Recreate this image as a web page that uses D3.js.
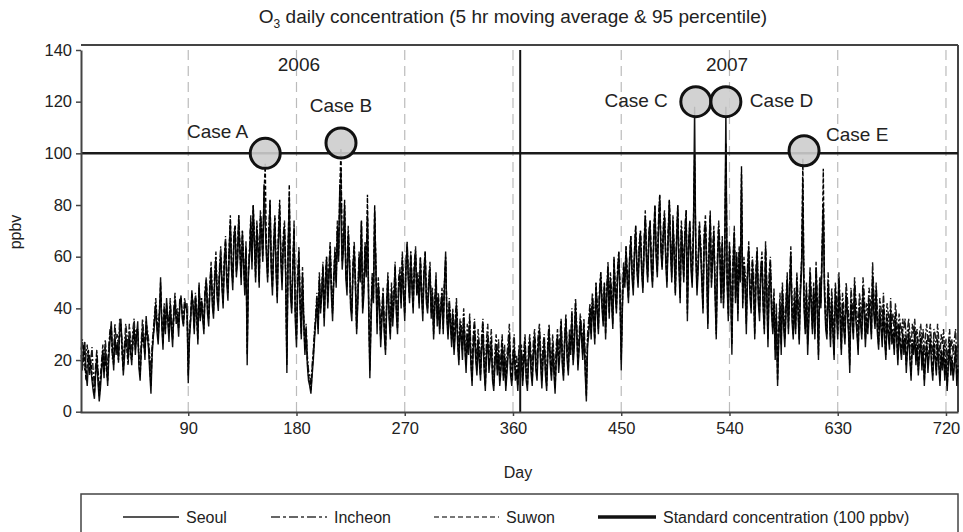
<!DOCTYPE html>
<meta charset="utf-8">
<script src="https://cdn.jsdelivr.net/npm/d3@7"></script>
<style>
  body { margin: 0; background: #fff; }
  text { font-family: "Liberation Sans", Arial, sans-serif; fill: #222; }
</style>
<div id="chart"></div>
<script>
// daily values (ppbv), day 1..365 of each year
var seoul2006 = [
20,18,24,27,15,10,19,22,17,12, 8,5,14,20,11,4,9,16,22,13, 25,18,10,21,28,35,24,16,30,22,
27,19,33,36,25,14,21,30,26,20, 31,24,18,28,34,22,29,35,17,12, 25,33,28,20,37,30,24,15,7,22,
29,34,41,31,26,36,52,33,24,38, 30,44,35,27,40,32,25,38,43,34, 37,29,41,45,36,33,40,42,38,11,
28,35,47,40,30,44,38,26,49,35, 42,36,30,45,51,38,33,47,55,41, 36,50,58,44,39,53,62,48,40,57,
65,50,43,60,72,55,47,66,70,52, 58,74,61,49,68,57,45,63,18,52, 60,72,55,78,65,50,70,62,48,75,
68,58,88,72,60,50,66,80,55,45, 62,73,54,42,66,78,58,47,64,70, 52,15,60,80,45,38,55,70,35,25,
48,60,40,28,52,34,22,30,18,12, 10,7,14,20,28,35,42,30,50,38, 45,55,33,48,58,40,52,62,45,35,
50,60,48,70,58,88,75,55,62,80, 52,45,68,58,40,35,55,62,48,30, 42,58,50,72,38,45,62,52,75,40,
13,35,50,42,78,55,30,48,40,25, 35,45,30,22,40,50,36,28,45,33, 42,55,38,30,48,52,40,58,45,35,
55,65,50,42,60,48,38,55,62,45, 50,40,58,45,35,52,60,42,38,48, 55,36,45,28,40,50,33,42,30,38,
45,30,48,62,36,28,40,33,25,35, 22,30,40,26,18,32,28,20,35,24, 15,28,22,33,18,10,25,30,20,14,
26,19,12,24,30,16,8,22,28,15, 20,26,12,8,18,24,14,22,10,16, 25,12,20,8,15,22,28,14,10,18,
24,12,16,8,20];
var seoul2007 = [
14,22,10,18,25,12,8,20,26,15, 10,22,28,16,12,25,30,18,9,20, 26,14,8,22,30,18,12,24,15,7,
20,28,15,22,33,18,12,26,35,20, 14,28,22,36,18,25,40,30,16,24, 35,28,20,32,15,4,25,30,38,28,
42,35,26,48,38,30,45,52,40,33, 48,28,45,55,36,50,42,32,58,45, 38,52,60,44,16,40,55,48,62,50,
42,58,66,52,45,60,70,55,48,62, 68,54,46,62,75,58,50,66,72,55, 48,65,78,60,52,70,82,62,55,68,
75,58,48,66,80,62,50,72,60,45, 65,78,55,42,70,60,50,68,75,35, 62,72,55,48,68,118,60,45,55,70,
62,50,38,66,72,55,32,60,75,48, 58,68,45,28,55,70,60,42,65,40, 55,118,50,35,62,48,22,55,68,42,
58,35,60,50,92,40,55,48,30,52, 62,45,38,55,48,28,50,60,42,35, 52,58,40,30,62,45,25,48,55,38,
30,42,20,35,10,28,40,22,45,33, 25,38,50,30,45,60,35,28,42,30, 50,38,26,45,55,80,40,30,45,22,
35,52,40,30,45,28,55,38,20,48, 40,60,78,45,32,28,48,38,25,42, 30,20,45,38,28,50,35,22,40,32,
26,45,38,30,15,42,35,28,48,36, 30,22,40,34,28,45,38,25,35,30, 42,36,28,50,38,32,45,30,24,38,
32,25,40,28,20,35,30,24,38,26, 30,22,35,28,18,32,25,20,30,22, 28,15,24,30,20,12,26,22,30,18,
25,14,22,28,16,24,10,20,26,15, 22,28,18,12,25,20,14,26,18,10, 22,16,24,12,20,8,18,25,14,20,
12,18,24,10,16];
var incheon2006 = [
24,28,20,16,22,26,18,14,20,25, 15,10,18,24,16,8,14,20,26,18, 28,22,16,26,32,30,20,24,34,28,
30,24,36,32,28,20,26,34,30,25, 34,28,24,32,36,28,32,30,22,18, 28,36,30,26,34,32,28,22,14,26,
32,38,44,36,30,40,46,36,30,42, 34,40,38,32,44,36,30,40,46,38, 40,34,44,42,38,36,44,40,42,20,
32,38,44,42,36,46,40,32,50,38, 44,40,36,48,52,42,38,50,58,46, 40,54,62,48,44,56,64,52,46,60,
68,54,48,64,74,58,52,70,72,56, 62,76,64,54,70,60,50,66,30,56, 64,76,60,80,68,56,74,66,52,78,
72,62,84,76,64,54,70,82,60,50, 66,76,58,48,70,80,62,52,68,74, 56,22,64,84,50,42,58,74,40,30,
52,64,44,34,56,38,26,34,22,16, 14,10,18,24,32,38,46,34,54,42, 48,58,38,52,60,44,56,66,50,40,
54,64,52,74,62,80,94,60,66,78, 56,50,72,62,44,40,58,66,52,36, 46,62,54,74,44,50,66,56,78,44,
20,40,54,46,76,58,36,52,44,30, 40,48,34,28,44,54,40,32,50,38, 46,58,42,36,52,56,44,62,48,40,
58,66,54,46,62,52,42,58,64,48, 54,44,60,48,40,56,62,46,42,52, 58,40,48,34,44,54,38,46,36,42,
48,36,50,58,40,34,44,38,30,40, 28,36,44,32,24,36,34,26,40,30, 22,34,28,38,24,16,30,36,26,20,
32,26,18,30,36,22,14,28,34,22, 26,32,18,14,24,30,20,28,16,22, 30,18,26,14,22,28,34,20,16,24,
30,18,22,14,26];
var incheon2007 = [
20,26,16,24,30,18,14,26,30,22, 16,28,32,22,18,30,34,24,16,26, 30,20,14,28,34,24,18,30,22,14,
26,32,22,28,36,24,18,30,38,26, 20,32,28,40,24,30,44,34,22,30, 38,32,26,36,22,12,30,36,42,34,
46,40,32,50,42,36,48,54,44,38, 50,34,48,58,40,54,46,38,60,48, 42,56,62,48,24,46,58,52,64,54,
46,60,68,56,50,62,72,58,52,66, 70,58,50,66,78,62,54,70,74,60, 52,68,80,64,56,74,84,66,58,72,
78,62,52,70,82,66,54,76,64,50, 68,80,60,48,74,64,56,72,78,42, 66,74,60,54,72,96,64,50,60,74,
66,56,44,70,76,60,40,64,78,54, 62,72,50,36,60,74,64,48,68,46, 60,100,56,42,66,54,30,60,72,48,
62,42,64,56,86,46,60,54,38,56, 66,50,44,60,54,34,56,64,48,42, 56,62,46,36,66,50,32,54,60,44,
36,48,28,42,18,34,46,30,50,40, 32,44,54,36,50,64,42,34,48,36, 54,44,32,50,60,90,46,36,50,30,
42,56,46,36,50,34,58,44,28,52, 46,64,80,50,38,34,54,44,32,48, 38,28,50,44,36,54,42,30,46,40,
34,50,44,38,24,48,42,36,52,44, 38,30,46,42,36,52,46,34,42,38, 48,44,36,58,46,40,50,38,32,44,
40,34,46,36,30,42,38,32,44,34, 38,30,42,36,28,38,34,30,36,32, 36,26,32,36,30,24,34,30,36,28,
32,24,30,34,26,32,22,30,34,26, 30,34,26,22,32,30,24,34,28,20, 30,26,32,22,28,18,26,32,24,28,
22,28,32,20,26];
var suwon2006 = [
22,16,26,20,12,18,24,15,20,14, 10,7,16,22,14,6,12,18,24,15, 22,16,12,24,30,33,22,18,28,24,
25,20,30,34,22,16,24,28,24,18, 28,22,20,26,32,24,30,32,19,14, 24,30,26,22,35,28,26,18,10,24,
30,36,42,34,28,38,50,35,26,40, 32,42,36,30,42,34,28,36,44,36, 38,32,42,44,38,34,42,40,40,14,
30,36,46,42,32,44,36,28,48,36, 44,38,32,46,50,40,36,48,56,44, 38,52,60,46,42,54,60,50,42,58,
66,52,46,62,76,56,50,68,72,54, 60,76,62,52,70,58,48,64,22,54, 62,74,58,80,66,52,72,64,50,76,
70,60,84,96,62,52,68,82,56,48, 64,75,56,44,68,82,60,50,66,72, 54,18,62,88,48,40,56,72,38,28,
50,62,42,30,54,36,24,32,20,14, 12,8,16,22,30,36,44,32,52,40, 46,56,36,50,60,42,54,64,48,38,
52,62,50,72,60,86,102,58,64,82, 54,48,70,60,42,38,56,64,50,32, 44,60,52,74,40,48,64,54,84,42,
16,38,52,44,80,56,34,50,42,28, 38,46,32,24,42,52,38,30,48,36, 44,56,40,32,50,54,42,60,46,38,
56,64,52,44,62,50,40,56,62,46, 52,42,60,46,38,54,62,44,40,50, 56,38,46,30,42,52,36,44,32,40,
46,32,50,60,38,30,42,36,28,38, 24,34,42,28,20,34,30,24,38,26, 18,30,24,36,20,12,28,34,22,16,
28,22,14,26,34,18,10,24,30,18, 22,28,14,10,20,26,16,24,12,18, 28,14,22,10,18,24,30,16,12,20,
26,14,18,10,22];
var suwon2007 = [
16,24,12,20,28,14,10,22,28,18, 12,24,30,18,14,28,32,20,12,22, 28,16,10,24,32,20,14,26,18,9,
22,30,18,24,35,20,14,28,36,22, 16,30,24,38,20,28,42,32,18,26, 36,30,22,34,18,6,28,32,40,30,
44,38,28,50,40,32,46,54,42,35, 50,30,46,56,38,52,44,34,60,46, 40,54,62,46,20,42,56,50,64,52,
44,60,68,54,48,62,72,56,50,64, 70,56,48,64,76,60,52,68,74,58, 50,66,80,62,54,72,84,64,56,70,
76,60,50,68,82,64,52,74,62,46, 66,80,58,44,72,62,52,70,78,38, 64,74,58,50,70,100,62,48,58,72,
64,52,40,68,74,58,34,62,76,50, 60,70,48,30,58,72,62,44,66,42, 58,104,52,38,64,50,26,58,70,44,
60,38,62,52,95,42,58,50,34,54, 64,48,40,58,50,30,52,62,44,38, 54,60,42,32,64,48,28,50,58,40,
32,44,24,38,12,30,42,26,48,36, 28,40,52,32,48,62,38,30,44,32, 52,40,28,48,58,98,42,32,48,26,
38,54,42,32,48,30,56,40,22,50, 42,62,94,48,34,30,50,40,28,44, 32,22,48,40,30,52,38,24,42,34,
28,46,40,32,18,44,38,30,50,38, 32,24,42,36,30,48,40,28,38,32, 44,38,30,54,40,34,48,32,26,40,
34,28,42,30,22,38,32,26,40,28, 32,24,38,30,20,34,28,22,32,24, 30,18,26,32,22,14,28,24,32,20,
28,16,24,30,18,26,12,22,28,18, 24,30,20,14,28,22,16,28,20,12, 24,18,26,14,22,10,20,28,16,22,
14,20,26,12,18];

var xTicks = [90, 180, 270, 360, 450, 540, 630, 720];
var yTicks = [0, 20, 40, 60, 80, 100, 120, 140];
var standardValue = 100;
var yearBreak = 366;
var years = ["2006", "2007"];
var yearMid = [182, 538];

var caseLabels = ["Case A", "Case B", "Case C", "Case D", "Case E"];
var caseDays = [154, 217, 512, 537, 602];
var caseValues = [100, 104, 120, 120, 101];

function toPoints(a, b) {
  return a.concat(b).map(function(v, i) { return { day: i + 1, value: v }; });
}
var series = [
  { name: "Seoul", values: toPoints(seoul2006, seoul2007), dash: null, color: "#111", w: 1.4 },
  { name: "Incheon", values: toPoints(incheon2006, incheon2007), dash: "7,2,2,2", color: "#1a1a1a", w: 1.4 },
  { name: "Suwon", values: toPoints(suwon2006, suwon2007), dash: "4,2", color: "#000", w: 1.4 }
];

var W = 963, H = 532;
var svg = d3.select("#chart").append("svg").attr("width", W).attr("height", H);

var x = d3.scaleLinear().domain([0, 730]).range([80, 958]);
var y = d3.scaleLinear().domain([0, 140]).range([411.7, 50]);

// title
var title = svg.append("text").attr("x", 513).attr("y", 23).attr("text-anchor", "middle")
  .style("font-size", "19px");
title.append("tspan").text("O");
title.append("tspan").attr("dy", 5).style("font-size", "12px").text("3");
title.append("tspan").attr("dy", -5).text(" daily concentration (5 hr moving average & 95 percentile)");

// frame
svg.append("line").attr("x1", 81).attr("x2", 958).attr("y1", 45).attr("y2", 45)
  .attr("stroke", "#444").attr("stroke-width", 2);
svg.append("line").attr("x1", 958).attr("x2", 958).attr("y1", 45).attr("y2", 412)
  .attr("stroke", "#444").attr("stroke-width", 2);

// dashed grid verticals
svg.append("g").selectAll("line").data(xTicks).join("line")
  .attr("x1", d => x(d)).attr("x2", d => x(d))
  .attr("y1", 50).attr("y2", 412)
  .attr("stroke", "#bbb").attr("stroke-width", 1.2)
  .attr("stroke-dasharray", "10,6");

// series
var line = d3.line().x(d => x(d.day)).y(d => y(d.value));
series.forEach(function(s) {
  svg.append("path").datum(s.values)
    .attr("fill", "none")
    .attr("stroke", s.color)
    .attr("stroke-width", s.w)
    .attr("stroke-dasharray", s.dash)
    .attr("d", line);
});

// standard line and year divider
svg.append("line").attr("x1", 81).attr("x2", 958)
  .attr("y1", y(standardValue)).attr("y2", y(standardValue))
  .attr("stroke", "#1a1a1a").attr("stroke-width", 2.5);
svg.append("line").attr("x1", x(yearBreak)).attr("x2", x(yearBreak))
  .attr("y1", 50).attr("y2", 412)
  .attr("stroke", "#111").attr("stroke-width", 2);

// year labels
svg.selectAll(".yr").data(years).join("text")
  .attr("x", (d, i) => x(yearMid[i])).attr("y", 70.5)
  .attr("text-anchor", "middle").style("font-size", "19px").text(d => d);

// axes
var xAxis = svg.append("g").attr("transform", "translate(0,412)")
  .call(d3.axisBottom(x).tickValues(xTicks).tickSize(4).tickSizeOuter(0).tickPadding(6));
var yAxis = svg.append("g").attr("transform", "translate(81,0)")
  .call(d3.axisLeft(y).tickValues(yTicks).tickSize(5).tickSizeOuter(0).tickPadding(4));
[xAxis, yAxis].forEach(function(a) {
  a.select(".domain").attr("stroke", "#444").attr("stroke-width", 2);
  a.selectAll(".tick line").attr("stroke", "#444").attr("stroke-width", 1.5);
  a.selectAll(".tick text").style("font-size", "16.5px").attr("fill", "#222")
    .style("font-family", "'Liberation Sans', Arial, sans-serif");
});

// cases
var cases = caseLabels.map((c, i) => ({ label: c, day: caseDays[i], value: caseValues[i] }));
svg.append("g").selectAll("circle").data(cases).join("circle")
  .attr("cx", d => x(d.day)).attr("cy", d => y(d.value)).attr("r", 15)
  .attr("fill", "#cdcdcd").attr("fill-opacity", 0.9)
  .attr("stroke", "#111").attr("stroke-width", 3);
var labelPos = [
  { dx: -17, dy: -15, anchor: "end" },
  { dx: 0, dy: -31, anchor: "middle" },
  { dx: -28, dy: 5, anchor: "end" },
  { dx: 24, dy: 5, anchor: "start" },
  { dx: 22, dy: -10, anchor: "start" }
];
svg.append("g").selectAll("text").data(cases).join("text")
  .attr("x", (d, i) => x(d.day) + labelPos[i].dx)
  .attr("y", (d, i) => y(d.value) + labelPos[i].dy)
  .attr("text-anchor", (d, i) => labelPos[i].anchor)
  .style("font-size", "19px").text(d => d.label);

// axis titles
svg.append("text").attr("transform", "translate(21,232) rotate(-90)")
  .attr("text-anchor", "middle").style("font-size", "16px").text("ppbv");
svg.append("text").attr("x", 518).attr("y", 478)
  .attr("text-anchor", "middle").style("font-size", "16px").text("Day");

// legend
var lg = svg.append("g");
lg.append("rect").attr("x", 81).attr("y", 494).attr("width", 877).attr("height", 56)
  .attr("fill", "#fff").attr("stroke", "#444").attr("stroke-width", 1.5);
var legendItems = [
  { name: "Seoul", x1: 123, x2: 179, dash: null, w: 2, c: "#555" },
  { name: "Incheon", x1: 271, x2: 327, dash: "9,3,3,3", w: 2, c: "#666" },
  { name: "Suwon", x1: 434, x2: 499, dash: "5,3", w: 2, c: "#777" },
  { name: "Standard concentration (100 ppbv)", x1: 598, x2: 656, dash: null, w: 3.5, c: "#111" }
];
legendItems.forEach(function(it) {
  lg.append("line").attr("x1", it.x1).attr("x2", it.x2).attr("y1", 517).attr("y2", 517)
    .attr("stroke", it.c).attr("stroke-width", it.w).attr("stroke-dasharray", it.dash);
  lg.append("text").attr("x", it.x2 + 7).attr("y", 522.5).style("font-size", "16px").text(it.name);
});
</script>
